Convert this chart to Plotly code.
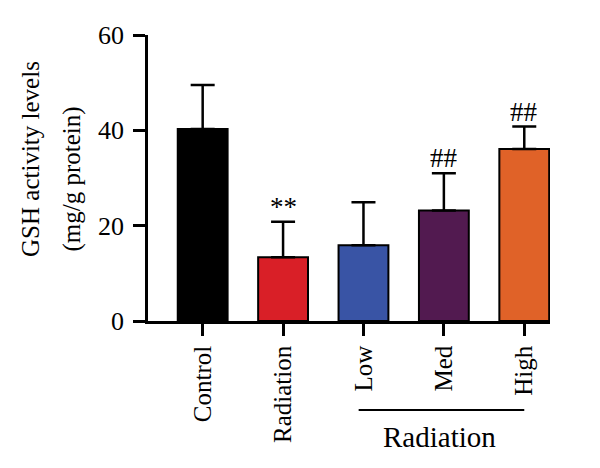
import plotly.graph_objects as go

categories = ["Control", "Radiation", "Low", "Med", "High"]
means = [40.3, 13.4, 15.9, 23.2, 36.1]
sd_up = [9.2, 7.4, 9.0, 7.8, 4.7]
colors = ["#000000", "#d91f27", "#3954a5", "#521a50", "#e06228"]
sig_labels = ["", "**", "", "##", "##"]
y_ticks = [0, 20, 40, 60]
group_label = "Radiation"

FONT = "Liberation Serif"

fig = go.Figure()
fig.add_trace(go.Bar(
    x=list(range(len(categories))),
    y=means,
    width=0.62,
    marker=dict(color=colors, line=dict(color="black", width=2)),
    error_y=dict(type="data", symmetric=False, array=sd_up,
                 arrayminus=[0] * len(means), color="black",
                 thickness=2.5, width=12),
    showlegend=False,
))

for i, lab in enumerate(sig_labels):
    if lab:
        fig.add_annotation(x=i, y=means[i] + sd_up[i], text=lab,
                           showarrow=False, yanchor="bottom", yshift=-2,
                           font=dict(family=FONT, size=27, color="black"))

# y-axis title lines
fig.add_annotation(xref="paper", yref="paper", x=-0.294, y=0.566,
                   xanchor="center", yanchor="middle",
                   text="GSH activity levels", textangle=-90, showarrow=False,
                   font=dict(family=FONT, size=25, color="black"))
fig.add_annotation(xref="paper", yref="paper", x=-0.19, y=0.497,
                   xanchor="center", yanchor="middle",
                   text="(mg/g protein)", textangle=-90, showarrow=False,
                   font=dict(family=FONT, size=25, color="black"))

# group bracket
fig.add_shape(type="line", xref="x", yref="paper", x0=1.94, x1=4.0,
              y0=-0.311, y1=-0.311, line=dict(color="black", width=2))
fig.add_annotation(xref="x", yref="paper", x=2.95, y=-0.406, text=group_label,
                   xanchor="center", yanchor="middle",
                   showarrow=False, font=dict(family=FONT, size=29, color="black"))

fig.update_layout(
    width=600, height=468,
    margin=dict(l=148, r=50, t=35, b=147),
    plot_bgcolor="white", paper_bgcolor="white",
    font=dict(family=FONT, size=25, color="black"),
)
fig.update_xaxes(
    range=[-0.68, 4.32], tickmode="array",
    tickvals=list(range(len(categories))), ticktext=categories,
    tickangle=-90, ticks="outside", ticklen=12, tickwidth=2.5,
    tickcolor="black", showline=True, linecolor="black", linewidth=2.5,
    showgrid=False, zeroline=False, tickfont=dict(family=FONT, size=25),
)
fig.update_yaxes(
    range=[0, 60], tickvals=y_ticks, ticks="outside", ticklen=12,
    tickwidth=2.5, tickcolor="black", showline=True, linecolor="black",
    linewidth=2.5, showgrid=False, zeroline=False, ticklabelstandoff=4,
    tickfont=dict(family=FONT, size=26),
)

fig.write_html("out.html")
